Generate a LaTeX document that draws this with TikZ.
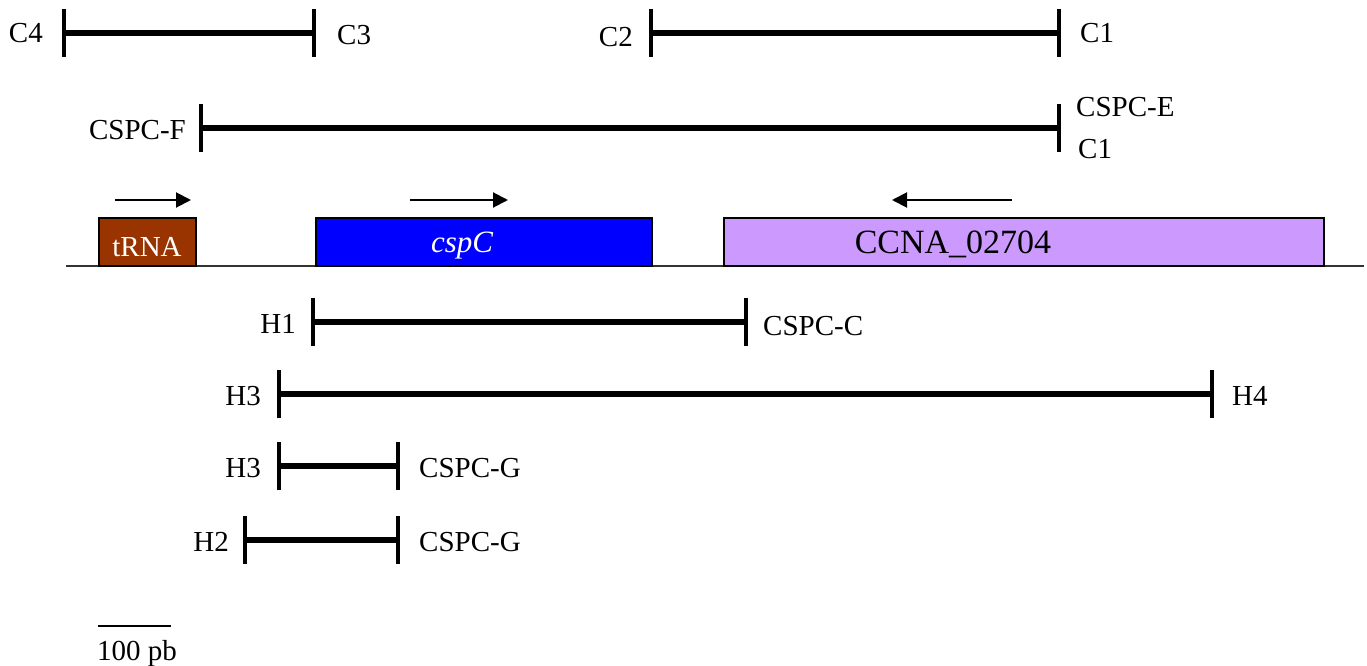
\documentclass[tikz,border=0pt]{standalone}
\usepackage{fontspec}
\setmainfont{Liberation Serif}
\usetikzlibrary{arrows.meta}
\tikzset{
  seg/.style={line width=5.5pt},
  tick/.style={line width=4.7pt},
  lbl/.style={inner sep=0pt, font=\fontsize{29}{34}\selectfont},
  gene/.style={draw=black, line width=2pt, inner sep=0pt, minimum height=48pt, anchor=north west},
  dirarrow/.style={line width=2pt, -{Triangle[length=15pt,width=15pt]}},
}
\begin{document}
\begin{tikzpicture}[x=1pt,y=-1pt]
\useasboundingbox (0,0) rectangle (1367,666);
% segments: ends as coordinates
\foreach \n/\xa/\xb/\y in {c43/64/314/33, c21/651/1059/33, fe/201/1059/128, h1c/313/746/322, h34/279/1212/394, h3g/279/398/466, h2g/245/398/540}{
  \coordinate (\n a) at (\xa,\y);
  \coordinate (\n b) at (\xb,\y);
  \draw[seg] (\n a) -- (\n b);
  \draw[tick] ([yshift=-24pt]\n a) -- ([yshift=24pt]\n a);
  \draw[tick] ([yshift=-24pt]\n b) -- ([yshift=24pt]\n b);
}
% labels
\node[lbl, anchor=east] (lC4) at (43,33) {C4};
\node[lbl, anchor=west] (lC3) at (337,35) {C3};
\node[lbl, anchor=east] (lC2) at (633,37) {C2};
\node[lbl, anchor=west] (lC1a) at (1080,33) {C1};
\node[lbl, anchor=east] (lF) at (186,130) {CSPC-F};
\node[lbl, anchor=west] (lE) at (1076,107) {CSPC-E};
\node[lbl, anchor=west] (lC1b) at (1078,149) {C1};
\node[lbl, anchor=east] (lH1) at (296,324) {H1};
\node[lbl, anchor=west] (lCc) at (763,326) {CSPC-C};
\node[lbl, anchor=east] (lH3a) at (261,396) {H3};
\node[lbl, anchor=west] (lH4) at (1232,396) {H4};
\node[lbl, anchor=east] (lH3b) at (261,468) {H3};
\node[lbl, anchor=west] (lG1) at (419,468) {CSPC-G};
\node[lbl, anchor=east] (lH2) at (229,542) {H2};
\node[lbl, anchor=west] (lG2) at (419,542) {CSPC-G};
% baseline
\coordinate (bl1) at (66,266);
\coordinate (bl2) at (1364,266);
\draw[line width=2pt, black!80] (bl1) -- (bl2);
% genes
\node[gene, fill={rgb,255:red,153;green,51;blue,0}, minimum width=97pt] (trna) at (98,217) {};
\node[gene, fill={rgb,255:red,0;green,0;blue,255}, minimum width=336pt] (cspc) at (315,217) {};
\node[gene, fill={rgb,255:red,204;green,153;blue,255}, minimum width=600pt] (ccna) at (723,217) {};
\node[inner sep=0pt, anchor=base, text=white, font=\fontsize{29}{34}\selectfont] (trnalbl) at (147,256) {tRNA};
\node[inner sep=0pt, anchor=base, text=white, font=\fontsize{31}{36}\selectfont\itshape] (cspclbl) at (462,252) {cspC};
\node[inner sep=0pt, anchor=base, font=\fontsize{34}{40}\selectfont] (ccnalbl) at (953,253) {CCNA\_02704};
% direction arrows
\coordinate (a1s) at (115,200); \coordinate (a1e) at (191,200);
\coordinate (a2s) at (410,200); \coordinate (a2e) at (508,200);
\coordinate (a3s) at (1012,200); \coordinate (a3e) at (892,200);
\draw[dirarrow] (a1s) -- (a1e);
\draw[dirarrow] (a2s) -- (a2e);
\draw[dirarrow] (a3s) -- (a3e);
% scale bar
\coordinate (sb1) at (98,626); \coordinate (sb2) at (171,626);
\draw[line width=2pt] (sb1) -- (sb2);
\node[lbl, anchor=west] (sbl) at (97,654) {100 pb};
\end{tikzpicture}
\end{document}
